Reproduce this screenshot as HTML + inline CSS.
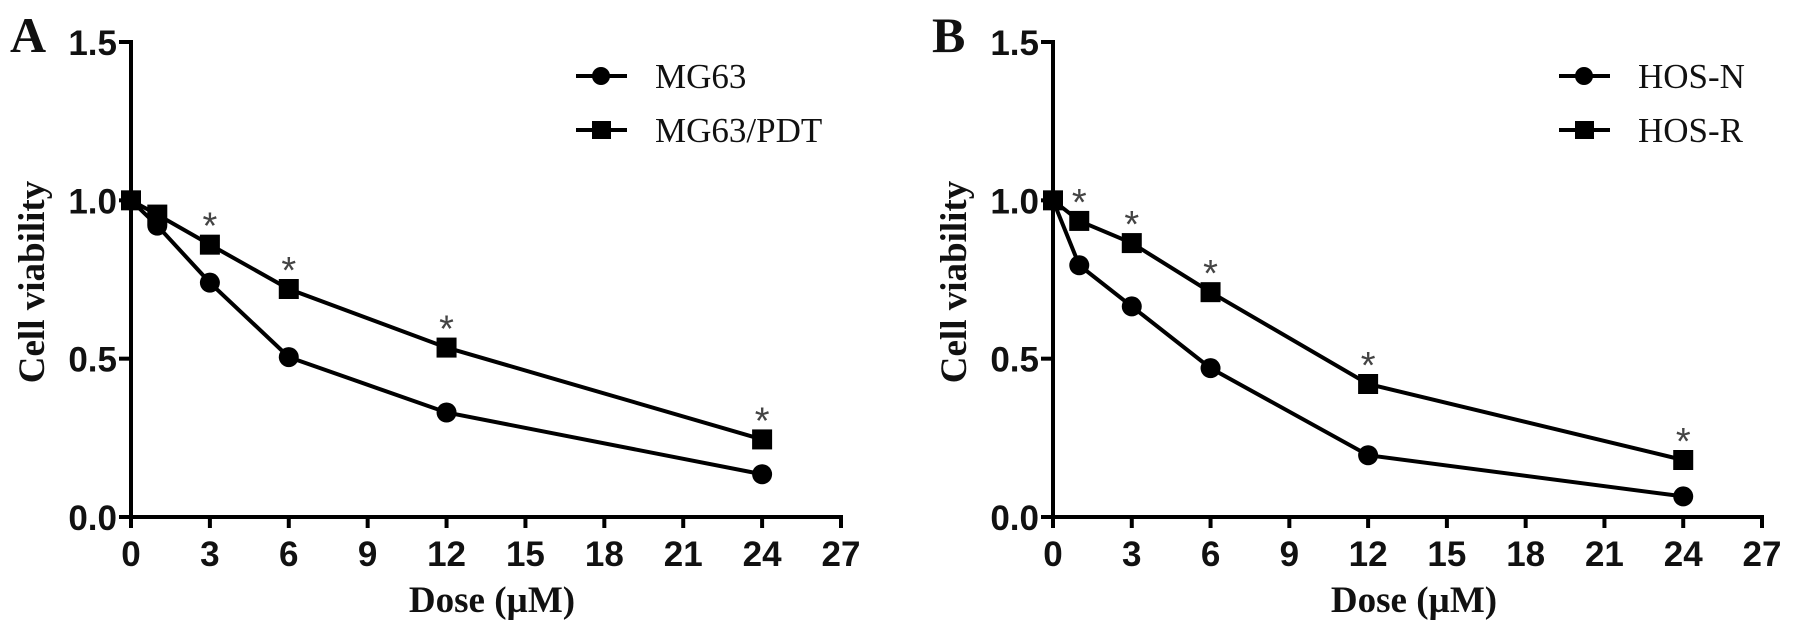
<!DOCTYPE html>
<html><head><meta charset="utf-8"><style>
html,body{margin:0;padding:0;background:#fff;}
svg{display:block;}
</style></head><body>
<svg id="chart" width="1795" height="634" xmlns="http://www.w3.org/2000/svg"></svg>
<script>
const doses = [0, 1, 3, 6, 12, 24];
const mg63 = [1.0, 0.92, 0.74, 0.505, 0.33, 0.135];
const mg63pdt = [1.0, 0.955, 0.86, 0.72, 0.535, 0.245];
const hosN = [1.0, 0.795, 0.665, 0.47, 0.195, 0.065];
const hosR = [1.0, 0.935, 0.865, 0.71, 0.42, 0.18];
const sigA = [false, false, true, true, true, true];
const sigB = [false, true, true, true, true, true];
const xTicks = [0, 3, 6, 9, 12, 15, 18, 21, 24, 27];
const yTicks = [0.0, 0.5, 1.0, 1.5];
const yTickLabels = ["0.0", "0.5", "1.0", "1.5"];

const NS = "http://www.w3.org/2000/svg";
const svg = document.getElementById('chart');
function mk(tag, attrs, parent, text) {
  const e = document.createElementNS(NS, tag);
  for (const k in attrs) e.setAttribute(k, attrs[k]);
  if (text !== undefined) e.textContent = text;
  (parent || svg).appendChild(e);
  return e;
}
const Y0 = 517, Y15 = 42;
function yS(v) { return Y0 - (v / 1.5) * (Y0 - Y15); }

function panel(cfg) {
  const g = mk('g', {});
  
  
  const X0 = cfg.x0, X27 = cfg.x27;
  const xS = d => X0 + (d / 27) * (X27 - X0);
  const ya = mk('line', {x1: X0, y1: Y15 - 2, x2: X0, y2: Y0, stroke: '#000', 'stroke-width': 4}, g);
  
  
  const xa = mk('line', {x1: X0 - 2, y1: Y0, x2: X27 + 2, y2: Y0, stroke: '#000', 'stroke-width': 4}, g);
  
  
  yTicks.forEach((v, i) => {
    mk('line', {x1: X0 - 12, y1: yS(v), x2: X0, y2: yS(v), stroke: '#000', 'stroke-width': 4}, g);
    const t = mk('text', {x: X0 - 14, y: yS(v) + 13, 'text-anchor': 'end', 'font-family': 'Liberation Sans, sans-serif', 'font-weight': 'bold', 'font-size': 35, fill: '#111'}, g, yTickLabels[i]);
    
    
  });
  xTicks.forEach(d => {
    mk('line', {x1: xS(d), y1: Y0, x2: xS(d), y2: Y0 + 11, stroke: '#000', 'stroke-width': 4}, g);
    const t = mk('text', {x: xS(d), y: 566, 'text-anchor': 'middle', 'font-family': 'Liberation Sans, sans-serif', 'font-weight': 'bold', 'font-size': 35, fill: '#111'}, g, String(d));
    
    
  });
  const xt = mk('text', {x: X0 + 361, y: 612, 'text-anchor': 'middle', 'font-family': 'Liberation Serif, serif', 'font-weight': 'bold', 'font-size': 37, fill: '#111'}, g, 'Dose (\u00b5M)');
  
  
  const yt = mk('text', {x: 0, y: 0, transform: `translate(${X0 - 87},282) rotate(-90)`, 'text-anchor': 'middle', 'font-family': 'Liberation Serif, serif', 'font-weight': 'bold', 'font-size': 37, fill: '#111'}, g, 'Cell viability');
  
  
  const pl = mk('text', {x: X0 - 121, y: 52, 'font-family': 'Liberation Serif, serif', 'font-weight': 'bold', 'font-size': 50, fill: '#111'}, g, cfg.letter);
  
  

  const series = [
    {vals: cfg.circ, shape: 'circle', label: cfg.circLabel, ly: 76},
    {vals: cfg.sq, shape: 'square', label: cfg.sqLabel, ly: 130}
  ];
  series.forEach(s => {
    const pts = doses.map((d, i) => xS(d) + ',' + yS(s.vals[i])).join(' ');
    const line = mk('polyline', {points: pts, fill: 'none', stroke: '#000', 'stroke-width': 4}, g);
    
    
    doses.forEach((d, i) => {
      let m;
      if (s.shape === 'circle') m = mk('circle', {cx: xS(d), cy: yS(s.vals[i]), r: 10, fill: '#000'}, g);
      else m = mk('rect', {x: xS(d) - 10, y: yS(s.vals[i]) - 10, width: 20, height: 20, fill: '#000'}, g);
      
      
    });
    const lx = cfg.legX;
    mk('line', {x1: lx, y1: s.ly, x2: lx + 51, y2: s.ly, stroke: '#000', 'stroke-width': 4}, g);
    let lm;
    if (s.shape === 'circle') lm = mk('circle', {cx: lx + 25, cy: s.ly, r: 9, fill: '#000'}, g);
    else lm = mk('rect', {x: lx + 16, y: s.ly - 9, width: 19, height: 18, fill: '#000'}, g);
    
    
    const lt = mk('text', {x: lx + 79, y: s.ly + 12, 'font-family': 'Liberation Serif, serif', 'font-size': 35, fill: '#111'}, g, s.label);
    
    
  });
  doses.forEach((d, i) => {
    if (!cfg.sig[i]) return;
    const a = mk('text', {x: xS(d), y: yS(cfg.sq[i]) - 6, 'text-anchor': 'middle', 'font-family': 'Liberation Sans, sans-serif', 'font-size': 38, fill: '#444'}, g, '*');
    
    
  });
}
panel({name: 'panel-a', letter: 'A', x0: 131, x27: 841, circ: mg63, sq: mg63pdt, circLabel: 'MG63', sqLabel: 'MG63/PDT', sig: sigA, legX: 576});
panel({name: 'panel-b', letter: 'B', x0: 1053, x27: 1762, circ: hosN, sq: hosR, circLabel: 'HOS-N', sqLabel: 'HOS-R', sig: sigB, legX: 1559});
</script>
</body></html>
